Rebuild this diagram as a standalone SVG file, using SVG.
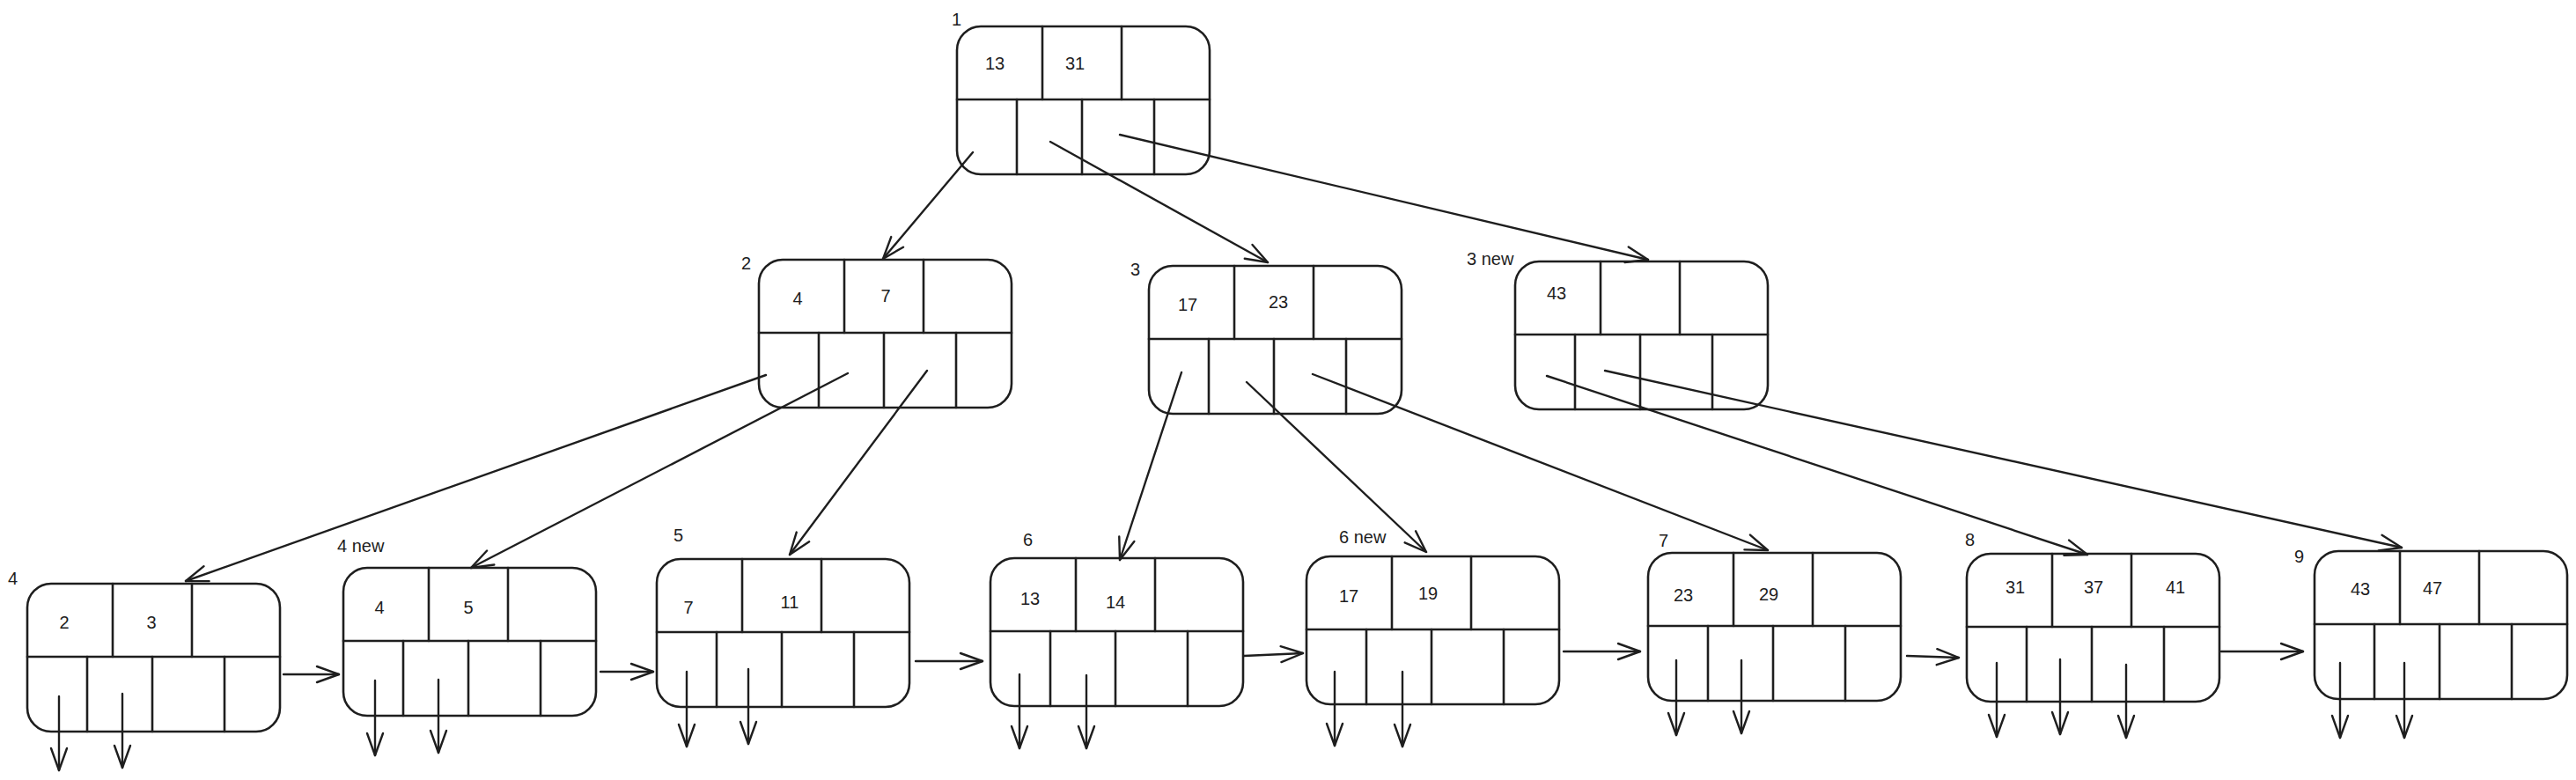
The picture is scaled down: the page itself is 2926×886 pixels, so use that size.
<svg xmlns="http://www.w3.org/2000/svg" xmlns:xlink="http://www.w3.org/1999/xlink" width="2926" height="886" viewBox="0 0 2926 886">
<style>
  .frame { fill: none; stroke: #1e1e1e; stroke-width: 2.6; stroke-linecap: round; }
  .key { font-family: "Liberation Sans", Arial, sans-serif; font-size: 20px; fill: #1e1e1e; text-anchor: middle; dominant-baseline: central; }
  .lbl { font-family: "Liberation Sans", Arial, sans-serif; font-size: 20px; fill: #1e1e1e; dominant-baseline: central; }
  .edge { fill: none; stroke: #1e1e1e; stroke-width: 2.4; stroke-linecap: round; marker-end: url(#ah); }
</style>
<defs>
  <marker id="ah" viewBox="-28 -12 30 24" markerWidth="30" markerHeight="24" refX="0" refY="0" orient="auto" markerUnits="userSpaceOnUse">
    <path d="M-25,-9 L0,0 L-25,9" fill="none" stroke="#1e1e1e" stroke-width="2.4" stroke-linecap="round" stroke-linejoin="round"/>
  </marker>
  <g id="frame" class="frame">
    <rect x="0" y="0" width="287" height="168" rx="27" ry="27"/>
    <line x1="0" y1="83" x2="287" y2="83"/>
    <line x1="97" y1="0" x2="97" y2="83"/>
    <line x1="187" y1="0" x2="187" y2="83"/>
    <line x1="68" y1="83" x2="68" y2="168"/>
    <line x1="142" y1="83" x2="142" y2="168"/>
    <line x1="224" y1="83" x2="224" y2="168"/>
  </g>
</defs>
<rect width="2926" height="886" fill="#ffffff"/>

<g id="node-1">
  <use href="#frame" x="1087" y="30"/>
  <text class="lbl" x="1081" y="22">1</text>
  <text class="key" x="1130" y="72">13</text>
  <text class="key" x="1221" y="72">31</text>
</g>
<g id="node-2">
  <use href="#frame" x="862" y="295"/>
  <text class="lbl" x="842" y="299">2</text>
  <text class="key" x="906" y="339">4</text>
  <text class="key" x="1006" y="336">7</text>
</g>
<g id="node-3">
  <use href="#frame" x="1305" y="302"/>
  <text class="lbl" x="1284" y="306">3</text>
  <text class="key" x="1349" y="346">17</text>
  <text class="key" x="1452" y="343">23</text>
</g>
<g id="node-3new">
  <use href="#frame" x="1721" y="297"/>
  <text class="lbl" x="1666" y="294">3 new</text>
  <text class="key" x="1768" y="333">43</text>
</g>
<g id="node-4">
  <use href="#frame" x="31" y="663"/>
  <text class="lbl" x="9" y="657">4</text>
  <text class="key" x="73" y="707">2</text>
  <text class="key" x="172" y="707">3</text>
</g>
<g id="node-4new">
  <use href="#frame" x="390" y="645"/>
  <text class="lbl" x="383" y="620">4 new</text>
  <text class="key" x="431" y="690">4</text>
  <text class="key" x="532" y="690">5</text>
</g>
<g id="node-5">
  <use href="#frame" x="746" y="635"/>
  <text class="lbl" x="765" y="608">5</text>
  <text class="key" x="782" y="690">7</text>
  <text class="key" x="897" y="684">11</text>
</g>
<g id="node-6">
  <use href="#frame" x="1125" y="634"/>
  <text class="lbl" x="1162" y="613">6</text>
  <text class="key" x="1170" y="680">13</text>
  <text class="key" x="1267" y="684">14</text>
</g>
<g id="node-6new">
  <use href="#frame" x="1484" y="632"/>
  <text class="lbl" x="1521" y="610">6 new</text>
  <text class="key" x="1532" y="677">17</text>
  <text class="key" x="1622" y="674">19</text>
</g>
<g id="node-7">
  <use href="#frame" x="1872" y="628"/>
  <text class="lbl" x="1884" y="614">7</text>
  <text class="key" x="1912" y="676">23</text>
  <text class="key" x="2009" y="675">29</text>
</g>
<g id="node-8">
  <use href="#frame" x="2234" y="629"/>
  <text class="lbl" x="2232" y="613">8</text>
  <text class="key" x="2289" y="667">31</text>
  <text class="key" x="2378" y="667">37</text>
  <text class="key" x="2471" y="667">41</text>
</g>
<g id="node-9">
  <use href="#frame" x="2629" y="626"/>
  <text class="lbl" x="2606" y="632">9</text>
  <text class="key" x="2681" y="669">43</text>
  <text class="key" x="2763" y="668">47</text>
</g>

<g id="connectors">
  <line class="edge" x1="1105" y1="173" x2="1003" y2="294"/>
  <line class="edge" x1="1193" y1="161" x2="1440" y2="298"/>
  <line class="edge" x1="1272" y1="153" x2="1872" y2="295"/>
  <line class="edge" x1="870" y1="426" x2="211" y2="660"/>
  <line class="edge" x1="963" y1="424" x2="535" y2="645"/>
  <line class="edge" x1="1053" y1="421" x2="897" y2="630"/>
  <line class="edge" x1="1342" y1="423" x2="1272" y2="636"/>
  <line class="edge" x1="1416" y1="434" x2="1620" y2="627"/>
  <line class="edge" x1="1491" y1="425" x2="2008" y2="625"/>
  <line class="edge" x1="1757" y1="427" x2="2371" y2="630"/>
  <line class="edge" x1="1823" y1="421" x2="2728" y2="622"/>

  <line class="edge" x1="322" y1="766" x2="385" y2="766"/>
  <line class="edge" x1="682" y1="763" x2="742" y2="763"/>
  <line class="edge" x1="1040" y1="751" x2="1116" y2="751"/>
  <line class="edge" x1="1413" y1="745" x2="1480" y2="742"/>
  <line class="edge" x1="1776" y1="740" x2="1863" y2="740"/>
  <line class="edge" x1="2166" y1="745" x2="2225" y2="747"/>
  <line class="edge" x1="2523" y1="740" x2="2616" y2="740"/>

  <line class="edge" x1="67" y1="791" x2="67" y2="875"/>
  <line class="edge" x1="139" y1="788" x2="139" y2="872"/>
  <line class="edge" x1="426" y1="773" x2="426" y2="858"/>
  <line class="edge" x1="498" y1="772" x2="498" y2="855"/>
  <line class="edge" x1="780" y1="763" x2="780" y2="848"/>
  <line class="edge" x1="850" y1="760" x2="850" y2="845"/>
  <line class="edge" x1="1158" y1="766" x2="1158" y2="850"/>
  <line class="edge" x1="1234" y1="767" x2="1234" y2="850"/>
  <line class="edge" x1="1516" y1="763" x2="1516" y2="847"/>
  <line class="edge" x1="1593" y1="763" x2="1593" y2="848"/>
  <line class="edge" x1="1904" y1="750" x2="1904" y2="835"/>
  <line class="edge" x1="1978" y1="750" x2="1978" y2="833"/>
  <line class="edge" x1="2268" y1="753" x2="2268" y2="837"/>
  <line class="edge" x1="2340" y1="749" x2="2340" y2="834"/>
  <line class="edge" x1="2415" y1="755" x2="2415" y2="838"/>
  <line class="edge" x1="2658" y1="753" x2="2658" y2="838"/>
  <line class="edge" x1="2731" y1="753" x2="2731" y2="838"/>
</g>
</svg>
